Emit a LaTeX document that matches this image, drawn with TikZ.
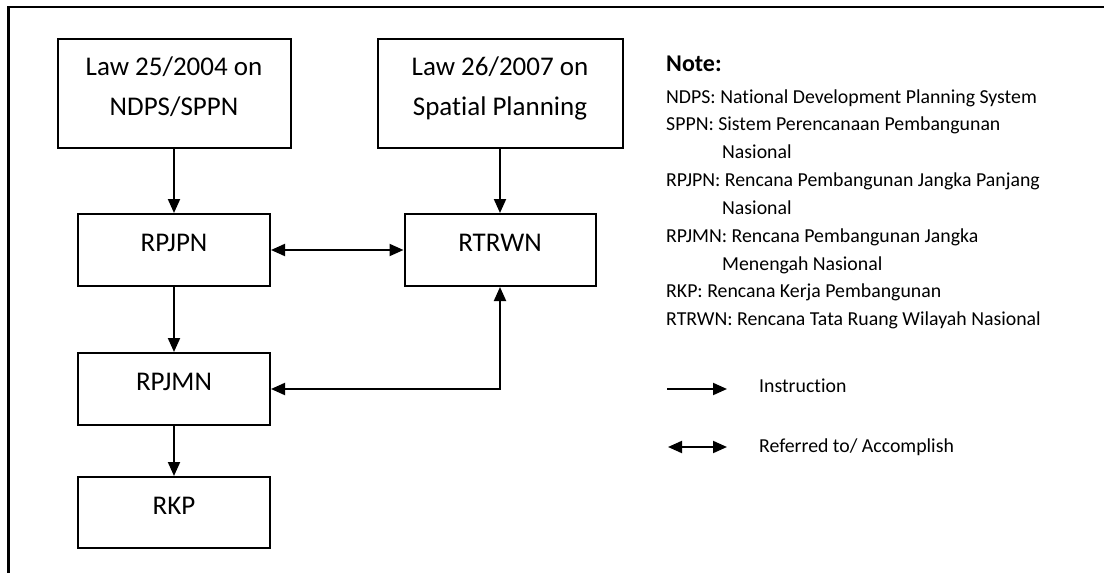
\documentclass[tikz,border=0pt]{standalone}
\usepackage{fontspec}
\setmainfont{Carlito}[RawFeature={-liga;-clig;-calt;-dlig}]
\usetikzlibrary{arrows.meta}
\begin{document}
\begin{tikzpicture}[x=1pt,y=-1pt,
  >={Triangle[length=14pt,width=12pt]},
  box/.style={draw, line width=2pt, inner sep=0pt},
  boxtext/.style={font=\fontsize{27}{32}\selectfont, anchor=base, inner sep=0pt},
  notetext/.style={font=\fontsize{19.8}{24}\selectfont, anchor=base west, inner sep=0pt},
  link/.style={line width=2pt, ->},
  twoway/.style={line width=2pt, <->},
]
\useasboundingbox (0,0) rectangle (1104,573);

% open frame: top and left edges only
\draw[line width=2.3pt] (8.5,573) -- (8.5,7.2) -- (1104,7.2);

% the two laws
\node[box, minimum width=233pt, minimum height=109pt] (law1) at (174,93.5) {};
\node[boxtext] (law1a) at (174,75) {Law 25/2004 on};
\node[boxtext] (law1b) at (174,115) {NDPS/SPPN};
\node[box, minimum width=245pt, minimum height=109pt] (law2) at (500,93.5) {};
\node[boxtext] (law2a) at (500,75) {Law 26/2007 on};
\node[boxtext] (law2b) at (500,115) {Spatial Planning};

% planning documents
\node[box, minimum width=192pt, minimum height=72pt] (rpjpn) at (174,250) {};
\node[boxtext] (rpjpnT) at (174,251.5) {RPJPN};
\node[box, minimum width=191pt, minimum height=72pt] (rtrwn) at (500,250) {};
\node[boxtext] (rtrwnT) at (500,251.5) {RTRWN};
\node[box, minimum width=192pt, minimum height=72pt] (rpjmn) at (174,389) {};
\node[boxtext] (rpjmnT) at (174,390.5) {RPJMN};
\node[box, minimum width=192pt, minimum height=71pt] (rkp) at (174,512.5) {};
\node[boxtext] (rkpT) at (174,514) {RKP};

% instructions and references
\draw[link] (law1) -- (rpjpn);
\draw[link] (law2) -- (rtrwn);
\draw[link] (rpjpn) -- (rpjmn);
\draw[link] (rpjmn) -- (rkp);
\draw[twoway] (rpjpn) -- (rtrwn);
\draw[twoway] (rtrwn.south) |- (rpjmn.east);

% abbreviations
\node[notetext, font=\fontsize{24}{28}\selectfont\bfseries] (note) at (666,71) {Note:};
\foreach \k/\x/\t in {0/666/NDPS: National Development Planning System,
                      1/666/SPPN: Sistem Perencanaan Pembangunan,
                      2/722/Nasional,
                      3/666/RPJPN: Rencana Pembangunan Jangka Panjang,
                      4/722/Nasional,
                      5/666/RPJMN: Rencana Pembangunan Jangka,
                      6/722/Menengah Nasional,
                      7/666/RKP: Rencana Kerja Pembangunan,
                      8/666/RTRWN: Rencana Tata Ruang Wilayah Nasional}
  \node[notetext] (note\k) at (\x,103+27.85*\k) {\t};

% legend
\coordinate (i1) at (667,389);
\coordinate (i2) at (727,389);
\draw[link] (i1) -- (i2);
\node[notetext] (instr) at (759,392) {Instruction};
\coordinate (r1) at (668,447);
\coordinate (r2) at (727,447);
\draw[twoway] (r1) -- (r2);
\node[notetext] (refer) at (759,452) {Referred to/ Accomplish};
\end{tikzpicture}
\end{document}
